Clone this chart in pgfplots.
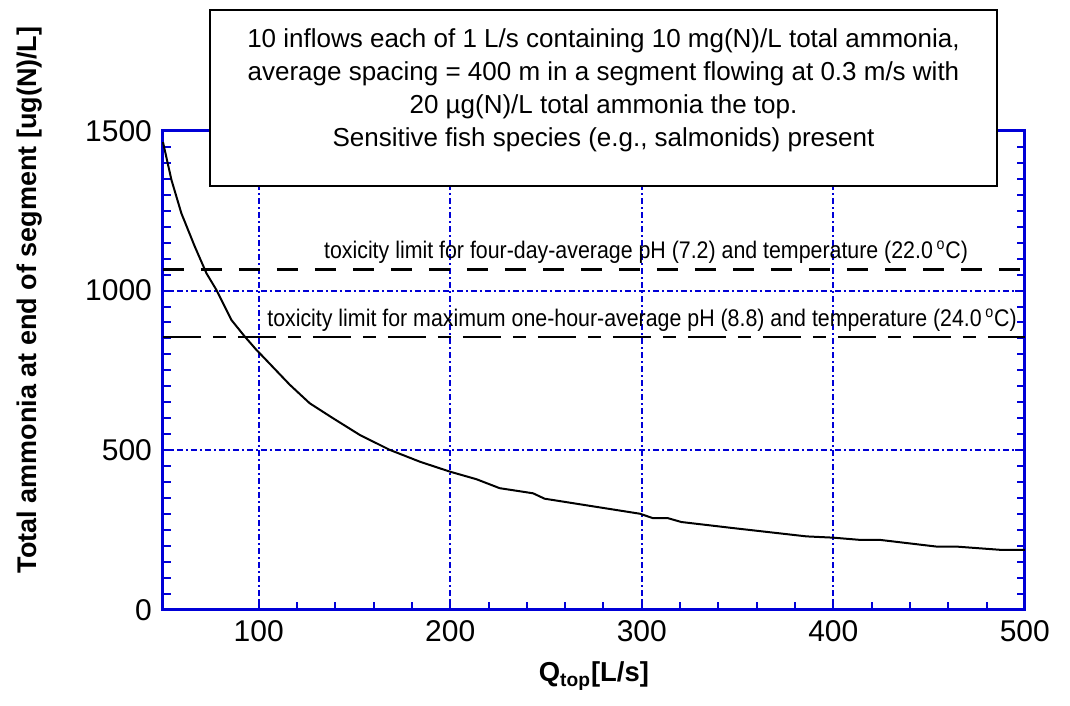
\documentclass[border=0pt]{standalone}
\usepackage{fontspec}
\setmainfont{Liberation Sans}
\usepackage{graphicx}
\usepackage{pgfplots}
\pgfplotsset{compat=1.18}
\definecolor{frameblue}{RGB}{0,0,215}

\pgfplotstableread{
x y
50 1465
54.4 1347
59.6 1242
66.6 1138
72.7 1054
77.9 1002
85.7 908
92.7 856
98.8 814
102.2 793
116.2 705
126.6 647
138.8 600
152.7 548
168.4 501
184.1 464
199.7 433
213.7 409
225.8 381
243.2 365
249.3 348
299 301
305.9 287
313.7 287
320.7 275
347.7 256
386 230
400 226
414 219
424.4 219
454 198
464.4 198
487 188
500 188
}\ammonia

\begin{document}
\begin{tikzpicture}
\begin{axis}[
    scale only axis,
    width=431pt, height=239.5pt,
    xmin=50, xmax=500, ymin=0, ymax=1500,
    xtick={100,200,300,400,500},
    ytick={0,500,1000,1500},
    minor x tick num=4,
    minor y tick num=9,
    tick align=inside,
    major tick length=5pt,
    minor tick length=4pt,
    axis line style={frameblue, line width=1.5pt},
    every tick/.style={frameblue, line width=1pt},
    grid=major,
    major grid style={frameblue, line width=1pt, dash pattern=on 3pt off 1.5pt on 1pt off 1.5pt},
    /pgf/number format/assume math mode=true,
    /pgf/number format/1000 sep={},
    tick label style={font=\fontsize{15}{17}\selectfont},
    yticklabel style={xshift=-2pt},
    xticklabel style={yshift=-2pt},
    xlabel={\textbf{Q\textsubscript{top}[L/s]}},
    ylabel={\textbf{Total ammonia at end of segment [ug(N)/L]}},
    every axis x label/.style={at={(axis description cs:0.5,-0.138)}, anchor=center, font=\fontsize{13.7}{16}\selectfont},
    every axis y label/.style={at={(axis description cs:-0.155,0.647)}, anchor=center, rotate=90, font=\fontsize{13.5}{16}\selectfont},
    clip=false,
]
\addplot[black, line width=1pt] table[x=x, y=y] {\ammonia};
\addplot[black, line width=1.3pt, dash pattern=on 10.5pt off 8.5pt] coordinates {(50,1066) (500,1066)};
\addplot[black, line width=1.3pt, dash pattern=on 19pt off 6pt on 6.5pt off 6pt] coordinates {(50,855) (500,855)};

\node[anchor=east, font=\fontsize{12}{14}\selectfont, inner sep=0pt]
  at (axis cs:470.5,1121) {\scalebox{0.89}[1]{toxicity limit for four-day-average pH (7.2) and temperature (22.0\,\textsuperscript{o}C)}};
\node[anchor=east, font=\fontsize{12}{14}\selectfont, inner sep=0pt]
  at (axis cs:496,908) {\scalebox{0.89}[1]{toxicity limit for maximum one-hour-average pH (8.8) and temperature (24.0\,\textsuperscript{o}C)}};

\filldraw[fill=white, draw=black, line width=1pt] (axis cs:74.5,1879) rectangle (axis cs:485.5,1328);
\node[anchor=north, align=center, font=\fontsize{13}{16.5}\selectfont, inner sep=0pt]
  at (axis cs:280,1822) {10 inflows each of 1 L/s containing 10 mg(N)/L total ammonia,\\
  average spacing = 400 m in a segment flowing at 0.3 m/s with\\
  20 µg(N)/L total ammonia the top.\\
  Sensitive fish species (e.g., salmonids) present};

\path (axis cs:-35.1,-300.7) rectangle (axis cs:523.6,1910);
\end{axis}
\end{tikzpicture}
\end{document}
